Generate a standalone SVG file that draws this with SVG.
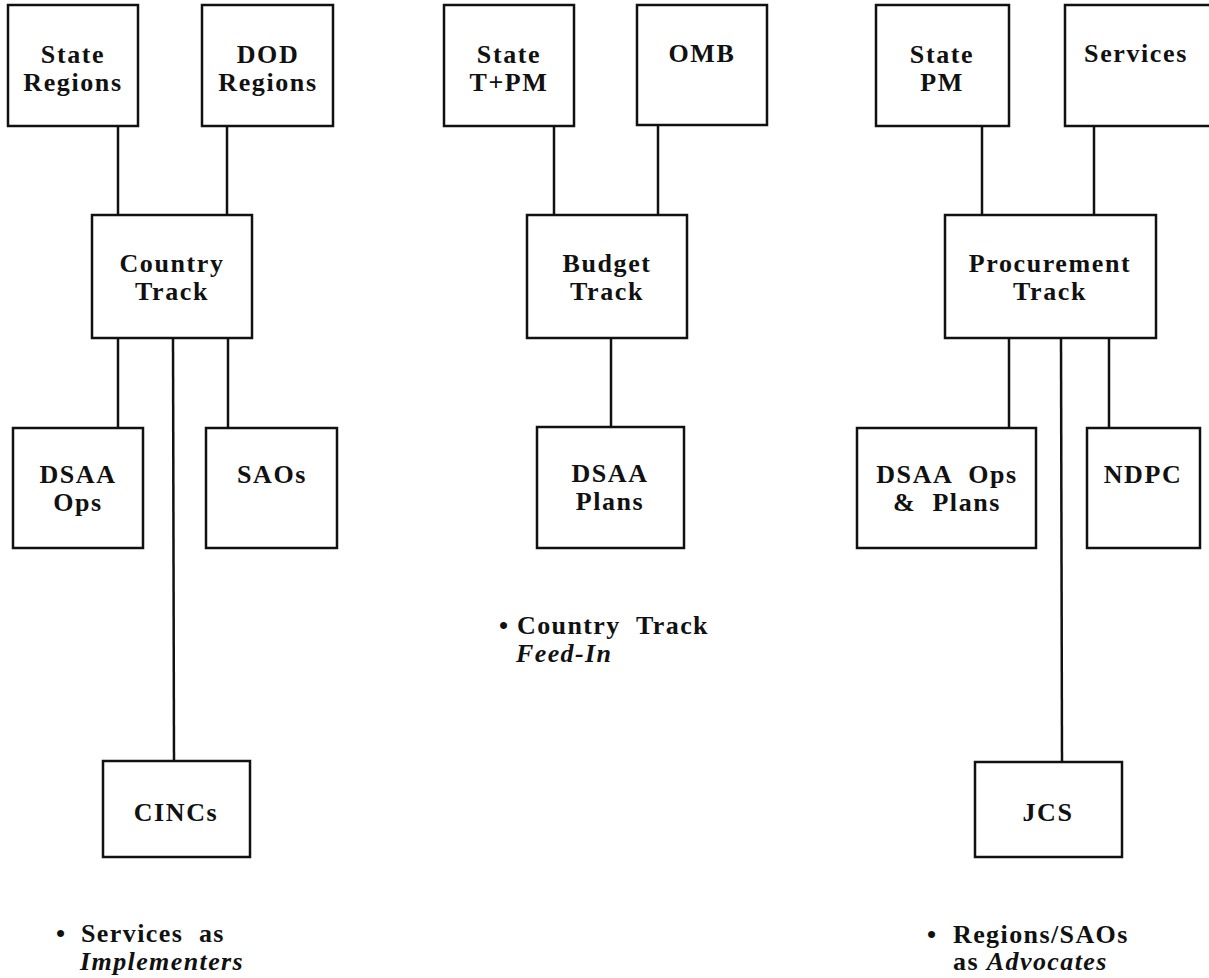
<svg xmlns="http://www.w3.org/2000/svg" width="1209" height="978" viewBox="0 0 1209 978">
<style>
.box{fill:#fff;stroke:#111;stroke-width:2.5}
.ln{stroke:#111;stroke-width:2.5;fill:none}
.t{font-family:"Liberation Serif","Times New Roman",serif;font-weight:bold;font-size:26px;fill:#111;text-anchor:middle;letter-spacing:1.6px}
.n{font-family:"Liberation Serif","Times New Roman",serif;font-weight:bold;font-size:26px;fill:#111;letter-spacing:1.4px}
.i{font-style:italic}
</style>
<rect width="1209" height="978" fill="#fff"/>
<g id="connectors">
<line class="ln" x1="118" y1="126" x2="118" y2="215"/>
<line class="ln" x1="227" y1="126" x2="227" y2="215"/>
<line class="ln" x1="118" y1="338" x2="118" y2="428"/>
<line class="ln" x1="228" y1="338" x2="228" y2="428"/>
<line class="ln" x1="173" y1="338" x2="174" y2="761"/>
<line class="ln" x1="554" y1="126" x2="554" y2="215"/>
<line class="ln" x1="658" y1="126" x2="658" y2="215"/>
<line class="ln" x1="611" y1="338" x2="611" y2="427"/>
<line class="ln" x1="982" y1="126" x2="982" y2="215"/>
<line class="ln" x1="1094" y1="126" x2="1094" y2="215"/>
<line class="ln" x1="1009" y1="338" x2="1009" y2="428"/>
<line class="ln" x1="1109" y1="338" x2="1109" y2="428"/>
<line class="ln" x1="1061" y1="338" x2="1062" y2="762"/>
</g>
<g id="state-regions"><rect class="box" x="8" y="5" width="130" height="121"/><text class="t" x="73" y="63">State</text><text class="t" x="73" y="91">Regions</text></g>
<g id="dod-regions"><rect class="box" x="202" y="5" width="131" height="121"/><text class="t" x="268" y="63">DOD</text><text class="t" x="268" y="91">Regions</text></g>
<g id="country-track"><rect class="box" x="92" y="215" width="160" height="123"/><text class="t" x="172" y="272">Country</text><text class="t" x="172" y="300">Track</text></g>
<g id="dsaa-ops"><rect class="box" x="13" y="428" width="130" height="120"/><text class="t" x="78" y="483">DSAA</text><text class="t" x="78" y="511">Ops</text></g>
<g id="saos"><rect class="box" x="206" y="428" width="131" height="120"/><text class="t" x="272" y="483">SAOs</text></g>
<g id="cincs"><rect class="box" x="103" y="761" width="147" height="96"/><text class="t" x="176" y="821">CINCs</text></g>
<g id="state-tpm"><rect class="box" x="444" y="5" width="130" height="121"/><text class="t" x="509" y="63">State</text><text class="t" x="509" y="91">T+PM</text></g>
<g id="omb"><rect class="box" x="637" y="5" width="130" height="120"/><text class="t" x="702" y="62">OMB</text></g>
<g id="budget-track"><rect class="box" x="527" y="215" width="160" height="123"/><text class="t" x="607" y="272">Budget</text><text class="t" x="607" y="300">Track</text></g>
<g id="dsaa-plans"><rect class="box" x="537" y="427" width="147" height="121"/><text class="t" x="610" y="482">DSAA</text><text class="t" x="610" y="510">Plans</text></g>
<g id="state-pm"><rect class="box" x="876" y="5" width="133" height="121"/><text class="t" x="942" y="63">State</text><text class="t" x="942" y="91">PM</text></g>
<g id="services"><rect class="box" x="1065" y="5" width="150" height="121"/><text class="t" x="1136" y="62">Services</text></g>
<g id="procurement-track"><rect class="box" x="945" y="215" width="211" height="123"/><text class="t" x="1050" y="272">Procurement</text><text class="t" x="1050" y="300">Track</text></g>
<g id="dsaa-ops-plans"><rect class="box" x="857" y="428" width="179" height="120"/><text class="t" x="947" y="483" xml:space="preserve">DSAA  Ops</text><text class="t" x="947" y="511" xml:space="preserve">&amp;  Plans</text></g>
<g id="ndpc"><rect class="box" x="1087" y="428" width="113" height="120"/><text class="t" x="1143" y="483">NDPC</text></g>
<g id="jcs"><rect class="box" x="975" y="762" width="147" height="95"/><text class="t" x="1048" y="821">JCS</text></g>
<g id="notes">
<text class="n" x="56" y="942">•</text><text class="n" x="81" y="942" xml:space="preserve">Services  as</text>
<text class="n i" x="80" y="970">Implementers</text>
<text class="n" x="499" y="634">•</text><text class="n" x="517" y="634" xml:space="preserve">Country  Track</text>
<text class="n i" x="516" y="662">Feed-In</text>
<text class="n" x="927" y="943">•</text><text class="n" x="953" y="943">Regions/SAOs</text>
<text class="n" x="953" y="970">as <tspan class="i">Advocates</tspan></text>
</g>
</svg>
